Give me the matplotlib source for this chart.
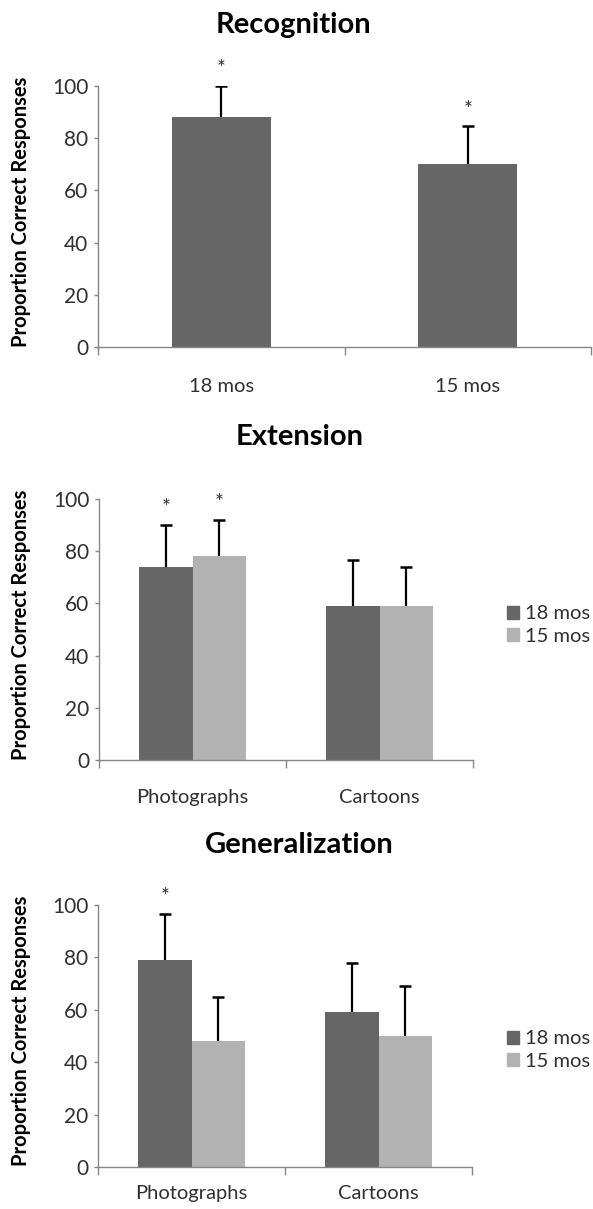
import matplotlib
matplotlib.use("Agg")
import matplotlib.pyplot as plt
import numpy as np
from matplotlib.patches import Patch

# ---- data ----
rec_labels = ["18 mos", "15 mos"]
rec_values = [88, 70]
rec_err = [12, 14.5]
rec_sig = [True, True]

groups = ["Photographs", "Cartoons"]
series = ["18 mos", "15 mos"]

ext_18 = [74, 59]
ext_18_err = [16, 17.5]
ext_15 = [78, 59]
ext_15_err = [14, 15]
ext_sig_18 = [True, False]
ext_sig_15 = [True, False]

gen_18 = [79, 59]
gen_18_err = [17.5, 19]
gen_15 = [48, 50]
gen_15_err = [17, 19]
gen_sig_18 = [True, False]
gen_sig_15 = [False, False]

yticks = [0, 20, 40, 60, 80, 100]

DARK = "#666666"
LIGHT = "#b2b2b2"
SPINE = "#868686"
TXT = "#303030"
FONT = ["Lato", "DejaVu Sans"]
plt.rcParams["font.family"] = FONT

W, H = 593, 1209
fig = plt.figure(figsize=(W / 100, H / 100), dpi=100)


def ax_rect(l, r, top, bot):
    return [l / W, 1 - bot / H, (r - l) / W, (bot - top) / H]


def style(ax, ncat, xpad=20):
    ax.set_ylim(0, 100)
    ax.set_xlim(-0.5, ncat - 0.5)
    ax.set_yticks(yticks)
    ax.set_yticklabels([str(t) for t in yticks], fontsize=15, color=TXT)
    for s in ["top", "right"]:
        ax.spines[s].set_visible(False)
    for s in ["left", "bottom"]:
        ax.spines[s].set_color(SPINE)
        ax.spines[s].set_linewidth(1.0)
    ax.tick_params(axis="y", direction="out", length=3, width=1, color=SPINE, pad=4)
    ax.set_xticks(np.arange(ncat))
    ax.tick_params(axis="x", which="major", length=0, pad=xpad, labelsize=14.5, labelcolor=TXT)
    ax.set_xticks(np.arange(ncat + 1) - 0.5, minor=True)
    ax.tick_params(axis="x", which="minor", direction="out", length=6, width=1, color=SPINE)


def upper_err(ax, x, v, e):
    _, caps, _ = ax.errorbar(x, v, yerr=[np.zeros(len(e)), e], fmt="none",
                             ecolor="black", elinewidth=1.6, capsize=4.5,
                             capthick=1.8, zorder=3)
    caps[0].set_visible(False)


def stars(ax, xs, tops, flags):
    for x, t, f in zip(xs, tops, flags):
        if f:
            ax.annotate("*", (x, t), xytext=(0, 5), textcoords="offset points",
                        ha="center", va="bottom", fontsize=15, color=TXT)


def ylabel(top, bot):
    fig.text(21 / W, 1 - ((top + bot) / 2 - 5) / H, "Proportion Correct Responses",
             rotation=90, ha="center", va="center", fontsize=14.5, fontweight="bold")


# ---- Panel 1: Recognition ----
ax1 = fig.add_axes(ax_rect(98, 591, 86, 347))
x1 = np.arange(len(rec_labels))
ax1.bar(x1, rec_values, width=0.4, color=DARK, zorder=2)
upper_err(ax1, x1, rec_values, rec_err)
style(ax1, len(rec_labels), xpad=22)
ax1.set_xticklabels(rec_labels)
stars(ax1, x1, np.array(rec_values) + np.array(rec_err), rec_sig)
fig.text(0.495, 1 - 25 / H, "Recognition", ha="center", va="center", fontsize=21, fontweight="bold")
ylabel(86, 347)


def grouped(rect, v18, e18, v15, e15, s18, s15, title, title_y, leg_y, xpad):
    ax = fig.add_axes(rect)
    x = np.arange(len(groups))
    w = 0.285
    ax.bar(x - w / 2, v18, width=w, color=DARK, zorder=2)
    ax.bar(x + w / 2, v15, width=w, color=LIGHT, zorder=2)
    upper_err(ax, x - w / 2, v18, e18)
    upper_err(ax, x + w / 2, v15, e15)
    style(ax, len(groups), xpad=xpad)
    ax.set_xticklabels(groups)
    stars(ax, x - w / 2, np.array(v18) + np.array(e18), s18)
    stars(ax, x + w / 2, np.array(v15) + np.array(e15), s15)
    fig.text(0.505, 1 - title_y / H, title, ha="center", va="center", fontsize=21, fontweight="bold")
    handles = [Patch(color=DARK), Patch(color=LIGHT)]
    fig.legend(handles, series, loc="center left",
               bbox_to_anchor=(507 / W, 1 - leg_y / H), frameon=False,
               fontsize=14.5, handlelength=0.6, handleheight=0.6,
               handletextpad=0.3, labelspacing=0.25, borderaxespad=0,
               borderpad=0, labelcolor=TXT)
    return ax


ax2 = grouped(ax_rect(99, 473, 499, 760), ext_18, ext_18_err, ext_15, ext_15_err,
              ext_sig_18, ext_sig_15, "Extension", 437, 625, 21)
ylabel(499, 760)

ax3 = grouped(ax_rect(98, 472, 905, 1167), gen_18, gen_18_err, gen_15, gen_15_err,
              gen_sig_18, gen_sig_15, "Generalization", 845, 1050, 13)
ylabel(905, 1167)

fig.savefig("out.png", dpi=100)
